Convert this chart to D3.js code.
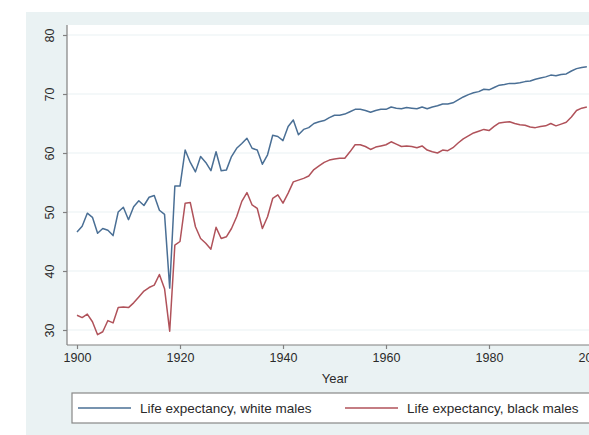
<!DOCTYPE html>
<html>
<head>
<meta charset="utf-8">
<script src="https://cdn.jsdelivr.net/npm/d3@7"></script>
<style>
    body { margin: 0; background: #fff; }
    svg { display: block; font-family: "Liberation Sans", Arial, sans-serif; }
</style>
</head>
<body>
<svg></svg>
<script>
// years 1900..1999, one value per year
var firstYear = 1900;
var whiteMales = [
    46.6, 47.6, 49.8, 49.1, 46.4, 47.2, 46.9, 46.0, 50.0, 50.8,
    48.7, 50.9, 51.9, 51.1, 52.5, 52.8, 50.3, 49.6, 37.1, 54.4,
    54.4, 60.5, 58.4, 56.8, 59.4, 58.4, 57.0, 60.2, 57.0, 57.1,
    59.4, 60.8, 61.6, 62.5, 60.8, 60.5, 58.1, 59.7, 63.0, 62.8,
    62.1, 64.5, 65.6, 63.1, 64.0, 64.3, 65.0, 65.3, 65.5, 66.0,
    66.4, 66.4, 66.6, 67.0, 67.4, 67.4, 67.2, 66.9, 67.2, 67.4,
    67.4, 67.8, 67.6, 67.5, 67.7, 67.6, 67.5, 67.8, 67.5, 67.8,
    68.0, 68.3, 68.3, 68.5, 69.0, 69.5, 69.9, 70.2, 70.4, 70.8,
    70.7, 71.1, 71.5, 71.6, 71.8, 71.8, 71.9, 72.1, 72.2, 72.5,
    72.7, 72.9, 73.2, 73.1, 73.3, 73.4, 73.9, 74.3, 74.5, 74.6
];
var blackMales = [
    32.5, 32.1, 32.7, 31.4, 29.2, 29.7, 31.6, 31.2, 33.8, 33.9,
    33.8, 34.6, 35.6, 36.6, 37.2, 37.6, 39.4, 37.0, 29.8, 44.4,
    45.0, 51.5, 51.6, 47.5, 45.5, 44.7, 43.7, 47.4, 45.5, 45.8,
    47.2, 49.2, 51.8, 53.3, 51.2, 50.6, 47.2, 49.2, 52.3, 52.9,
    51.5, 53.2, 55.1, 55.4, 55.7, 56.1, 57.2, 57.8, 58.4, 58.8,
    59.0, 59.1, 59.1, 60.2, 61.4, 61.4, 61.1, 60.6, 61.0, 61.2,
    61.4, 61.9, 61.5, 61.1, 61.2, 61.1, 60.9, 61.2, 60.5, 60.2,
    60.0, 60.5, 60.4, 60.9, 61.7, 62.4, 62.9, 63.4, 63.7, 64.0,
    63.8, 64.5, 65.1, 65.2, 65.3, 65.0, 64.8, 64.7, 64.4, 64.3,
    64.5, 64.6, 65.0, 64.6, 64.9, 65.2, 66.1, 67.2, 67.6, 67.8
];
var yTicks = [30, 40, 50, 60, 70, 80];
var xTicks = [1900, 1920, 1940, 1960, 1980, 2000];
var seriesNames = ["Life expectancy, white males", "Life expectancy, black males"];
var strokes = ["#4a6f95", "#b0525a"];

var width = 589, height = 435;
var plot = { left: 67, top: 25, right: 603, bottom: 345 };

var svg = d3.select("svg").attr("width", width).attr("height", height);

// graph region background (stata s2color look)
svg.append("rect")
    .attr("x", 26).attr("y", 12)
    .attr("width", 620).attr("height", 430)
    .attr("fill", "#eaf2f3");

svg.append("rect")
    .attr("x", plot.left).attr("y", plot.top)
    .attr("width", plot.right - plot.left).attr("height", plot.bottom - plot.top)
    .attr("fill", "#fff");

var x = d3.scaleLinear().domain([1900, 2000]).range([77, 592]);
var y = d3.scaleLinear().domain([30, 80]).range([330, 35]);

// grid lines
svg.append("g").selectAll("line")
    .data(yTicks)
    .enter().append("line")
    .attr("x1", plot.left).attr("x2", plot.right)
    .attr("y1", function (d) { return y(d); })
    .attr("y2", function (d) { return y(d); })
    .attr("stroke", "#eaf2f3")
    .attr("stroke-width", 1.2);

var data = whiteMales.map(function (v, i) {
    return { year: firstYear + i, white: v, black: blackMales[i] };
});

var lineWhite = d3.line()
    .x(function (d) { return x(d.year); })
    .y(function (d) { return y(d.white); });
var lineBlack = d3.line()
    .x(function (d) { return x(d.year); })
    .y(function (d) { return y(d.black); });

svg.append("path").datum(data)
    .attr("fill", "none").attr("stroke", strokes[0])
    .attr("stroke-width", 1.5).attr("stroke-linejoin", "round")
    .attr("d", lineWhite);
svg.append("path").datum(data)
    .attr("fill", "none").attr("stroke", strokes[1])
    .attr("stroke-width", 1.5).attr("stroke-linejoin", "round")
    .attr("d", lineBlack);

// Y axis
var yAxis = svg.append("g")
    .attr("transform", "translate(" + plot.left + ",0)")
    .call(d3.axisLeft(y).tickValues(yTicks).tickSize(4).tickPadding(4));
yAxis.select(".domain").attr("d", "M0," + plot.top + "V" + plot.bottom);
yAxis.selectAll("text")
    .attr("transform", "rotate(-90)")
    .attr("x", 0).attr("y", -13)
    .attr("dy", 0)
    .attr("text-anchor", "middle")
    .style("font-size", "12.5px");

// X axis
var xAxis = svg.append("g")
    .attr("transform", "translate(0," + plot.bottom + ")")
    .call(d3.axisBottom(x).tickValues(xTicks).tickFormat(d3.format("d")).tickSize(4).tickPadding(4));
xAxis.select(".domain").attr("d", "M" + plot.left + ",0H" + plot.right);
xAxis.selectAll("text").style("font-size", "12.5px");

svg.selectAll(".domain, .tick line").attr("stroke", "#808080").attr("stroke-width", 1.2);
svg.selectAll(".tick text").attr("fill", "#2a2a2a").style("font-family", "'Liberation Sans', Arial, sans-serif");

svg.append("text")
    .attr("x", (plot.left + plot.right) / 2).attr("y", 383)
    .attr("text-anchor", "middle")
    .attr("fill", "#2a2a2a")
    .style("font-size", "13px")
    .text("Year");

// legend
var legend = svg.append("g");
legend.append("rect")
    .attr("x", 72).attr("y", 393)
    .attr("width", 528).attr("height", 30)
    .attr("fill", "#fff").attr("stroke", "#888").attr("stroke-width", 1.2);

var legendX = [78, 345];
seriesNames.forEach(function (name, i) {
    legend.append("line")
        .attr("x1", legendX[i]).attr("x2", legendX[i] + 53)
        .attr("y1", 408).attr("y2", 408)
        .attr("stroke", strokes[i]).attr("stroke-width", 1.5);
    legend.append("text")
        .attr("x", legendX[i] + 62).attr("y", 412.5)
        .attr("fill", "#2a2a2a")
        .style("font-size", "13.5px")
        .text(name);
});
</script>
</body>
</html>
